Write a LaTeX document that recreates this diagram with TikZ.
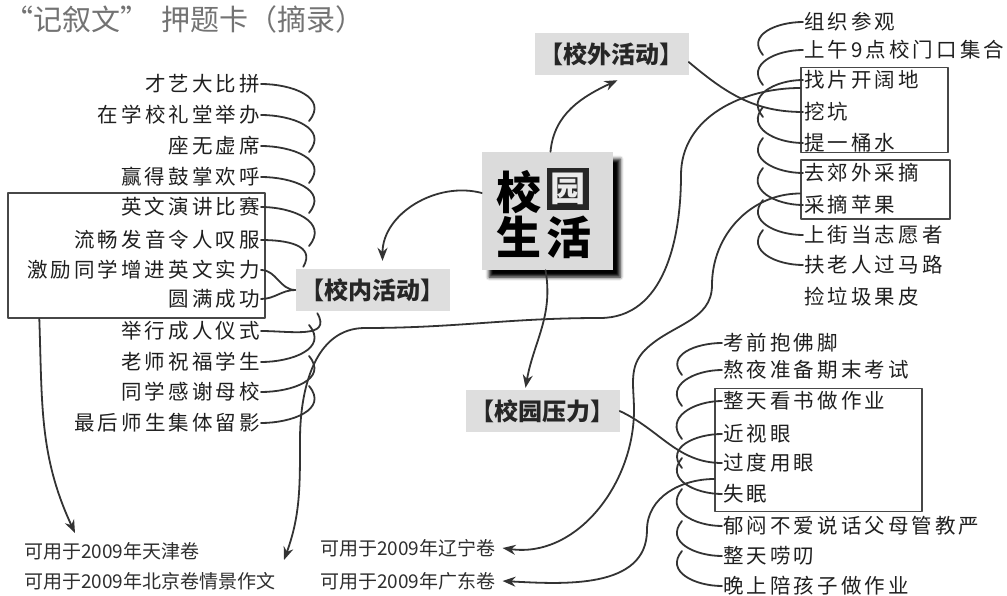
\documentclass[tikz,border=0pt]{standalone}
\usepackage{fontspec}
\setmainfont{Noto Sans CJK SC}
\newfontfamily\hand[LetterSpace=15]{Noto Sans CJK SC}
\usetikzlibrary{arrows.meta,positioning,calc,shadows.blur}
\begin{document}
\begin{tikzpicture}[x=1pt,y=1pt,line cap=round,line join=round,
    >={Stealth[length=13pt,width=10pt]},
    wire/.style={draw=black!80,line width=1.8pt},
    item/.style={inner sep=1pt,text=black!88,font=\hand\fontsize{20.5}{22}\selectfont},
    tag/.style={fill=black!13,inner sep=0pt,minimum width=154,minimum height=42,text=black!85,
      font=\bfseries\fontsize{24}{26}\selectfont},
    grp/.style={draw=black!72,line width=1.4pt,inner sep=0pt},
    src/.style={inner sep=0pt,anchor=west,text=black!82,font=\fontsize{19}{21}\selectfont},
    big/.style={inner sep=0pt,font=\bfseries\fontsize{45}{45}\selectfont}]
  \useasboundingbox (0,0) rectangle (1007,-596);
  \def\dl{48}
  \def\dr{40}
  % title
  \node[anchor=north west,inner sep=0pt,text=black!55,font=\fontsize{29}{31}\selectfont]
    (title) at (4,-5) {“记叙文”\hspace{12pt}押题卡（摘录）};
  % centre
  \node[fill=black!14,minimum width=131,minimum height=118,
    blur shadow={shadow xshift=7pt,shadow yshift=-7pt,shadow blur radius=3.5pt,shadow opacity=100}]
    (core) at (547.5,-211) {};
  \node[big] (k1) at (519,-192) {校};
  \node[big,fill=black!85,text=black!8,minimum size=42,font=\bfseries\fontsize{35}{35}\selectfont]
    (k2) at (568,-189) {园};
  \node[big] (k3) at (519,-237) {生};
  \node[big] (k4) at (569,-237) {活};
  \node[tag] (out) at (611.5,-54) {【校外活动】};
  \node[tag] (in) at (372.5,-290) {【校内活动】};
  \node[tag] (pr) at (542.5,-411) {【校园压力】};
  \draw[wire,->] ([xshift=3]core.north) to[out=85,in=205] ([xshift=6,yshift=-5]out.south);
  \draw[wire,->] ([yshift=18]core.west) to[out=165,in=90] ([xshift=10,yshift=8]in.north);
  \draw[wire,->] ([xshift=-2]core.south) to[out=-80,in=80] ([xshift=-17,yshift=2]pr.north);
  % group frames
  \node[grp,minimum width=257,minimum height=125] (b0) at (136.5,-255.5) {};
  \node[grp,minimum width=147,minimum height=85] (b1) at (874.5,-110) {};
  \node[grp,minimum width=149,minimum height=59] (b2) at (875.5,-189.5) {};
  \node[grp,minimum width=207,minimum height=123] (b3) at (818.5,-450) {};
  % school items
  \foreach \t/\y [count=\i] in {才艺大比拼/84,在学校礼堂举办/115,座无虚席/146,赢得鼓掌欢呼/177,
      英文演讲比赛/207,流畅发音令人叹服/240,激励同学增进英文实力/270,圆满成功/299,
      举行成人仪式/331,老师祝福学生/362,同学感谢母校/392,最后师生集体留影/423}
    \node[item,anchor=east] (L\i) at (261,-\y) {\t};
  % outing items
  \foreach \t/\y [count=\i] in {组织参观/22,上午9点校门口集合/50,找片开阔地/80,挖坑/112,
      提一桶水/143,去郊外采摘/173,采摘苹果/205,上街当志愿者/235,扶老人过马路/265,捡垃圾果皮/297}
    \node[item,anchor=west] (R\i) at (803,-\y) {\t};
  % pressure items
  \foreach \t/\y [count=\i] in {考前抱佛脚/343,熬夜准备期末考试/370,整天看书做作业/401,近视眼/434,
      过度用眼/463,失眠/494,郁闷不爱说话父母管教严/526,整天唠叨/556,晚上陪孩子做作业/586}
    \node[item,anchor=west] (P\i) at (722,-\y) {\t};
  % scallops
  \foreach \i in {1,...,5}{\pgfmathtruncatemacro\j{\i+1}
    \draw[wire] (L\i.east) to[out=0,in=50,looseness=1.3] ($(L\j.east)+(\dl,-6)$);}
  \draw[wire] (L6.east) to[out=0,in=60,looseness=1.3] ($(in.north west)+(8,2)$);
  \draw[wire] (L7.east) to[out=0,in=180] (in.west);
  \draw[wire] (L8.east) to[out=0,in=180] (in.west);
  \draw[wire] (L9.east) to[out=0,in=-60,looseness=1.3] ($(in.south west)+(22,-2)$);
  \foreach \i in {10,11,12}{\pgfmathtruncatemacro\h{\i-1}
    \draw[wire] (L\i.east) to[out=0,in=-50,looseness=1.3] ($(L\h.east)+(\dl,6)$);}
  \foreach \i in {1,2,3}{\pgfmathtruncatemacro\j{\i+1}
    \draw[wire] (R\i.west) to[out=180,in=130,looseness=1.3] ($(R\j.west)+(-\dr,-5)$);}
  \foreach \i in {5,...,9}{\pgfmathtruncatemacro\h{\i-1}
    \draw[wire] (R\i.west) to[out=180,in=-130,looseness=1.3] ($(R\h.west)+(-\dr,5)$);}
  \foreach \i in {1,...,4}{\pgfmathtruncatemacro\j{\i+1}
    \draw[wire] (P\i.west) to[out=180,in=130,looseness=1.3] ($(P\j.west)+(-\dr,-5)$);}
  \foreach \i in {6,...,9}{\pgfmathtruncatemacro\h{\i-1}
    \draw[wire] (P\i.west) to[out=180,in=-130,looseness=1.3] ($(P\h.west)+(-\dr,5)$);}
  \draw[wire] ([yshift=-8]out.east) to[out=-40,in=180] (R4.west);
  \draw[wire] (pr.east) to[out=-25,in=180] (P5.west);
  % exam papers
  \node[src] (tjs) at (24,-551) {可用于2009年天津卷};
  \node[src] (bjs) at (24,-581) {可用于2009年北京卷情景作文};
  \node[src] (lns) at (320,-548) {可用于2009年辽宁卷};
  \node[src] (gds) at (320,-581) {可用于2009年广东卷};
  \coordinate (tj) at (75,-533);
  \coordinate (tb) at (284,-560);
  \coordinate (tl) at ([xshift=7]lns.east);
  \coordinate (tg) at ([xshift=7]gds.east);
  \draw[wire,->] ([xshift=32]b0.south west) to[out=-88,in=115] (tj);
  \draw[wire,->] ([yshift=22]b1.west) to[out=180,in=90] (681,-175) to[out=-90,in=0] (600,-318)
    to[out=180,in=0] (365,-328) to[out=180,in=90] (300,-440) to[out=-90,in=70] (tb);
  \draw[wire,->] ([yshift=-4]b2.west) to[out=180,in=90] (712,-285) to[out=-90,in=45] (645,-350)
    to[out=225,in=90] (634,-410) to[out=-90,in=-8] (tl);
  \draw[wire,->] ([yshift=-29]b3.west) to[out=180,in=90] (647,-530) to[out=-90,in=-3] (tg);
\end{tikzpicture}
\end{document}
